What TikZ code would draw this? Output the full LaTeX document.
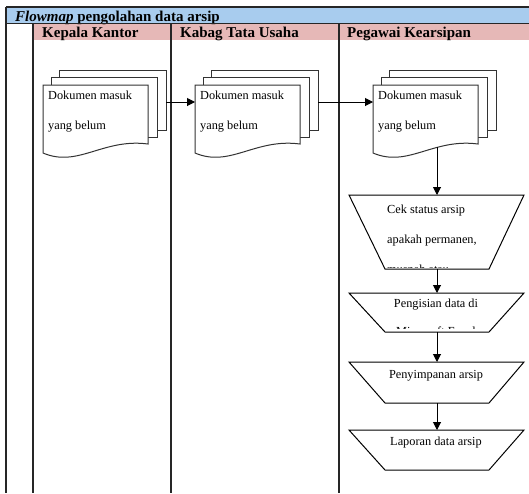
\documentclass[tikz,border=0pt]{standalone}
\usepackage{fontspec}
\setmainfont{Liberation Serif}
\usetikzlibrary{arrows.meta}
\definecolor{titleblue}{RGB}{168,204,238}
\definecolor{headpink}{RGB}{230,184,183}
\begin{document}
\begin{tikzpicture}[x=1pt,y=-1pt,
  grid/.style={line width=1.3pt,draw=black!85},
  page/.style={draw=black!80,line width=1pt,fill=white},
  lbl/.style={inner sep=0pt,font=\fontsize{12.3}{14}\selectfont},
  head/.style={inner sep=0pt,font=\fontsize{15}{17}\selectfont\bfseries},
  flow/.style={line width=1pt,-{Triangle[length=8pt,width=8pt]}},
  procbox/.style={draw=black,line width=1pt,fill=white},
  % stacked documents, origin at the top left corner of the front page
  multidoc/.pic={
    \path[page] (16,-15) rectangle (123,45);
    \path[page] (8,-8) rectangle (114,52);
    \path[page] (0,0) -- (105,0) -- (105,59)
      .. controls (60,53) and (35,83) .. (0,68) -- cycle;
    \node[lbl,anchor=base west] (-l1) at (5,14) {Dokumen masuk};
    \node[lbl,anchor=base west] (-l2) at (5,44) {yang belum};
    \coordinate (-in) at (0,17);
    \coordinate (-out) at (123,17);
    \coordinate (-bot) at (64,62.4);
  }
]
\useasboundingbox (0,0) rectangle (529,493);
\fill[white] (0,0) rectangle (529,493);

% title band and lane headers
\fill[titleblue] (6,7) rectangle (529,23.5);
\fill[headpink] (33,23.5) rectangle (529,39.5);
\node[head,anchor=base west] (title) at (15,21)
  {\textit{Flowmap} pengolahan data arsip};
\node[head,anchor=base west] (lane1) at (42,37) {Kepala Kantor};
\node[head,anchor=base west] (lane2) at (180,37) {Kabag Tata Usaha};
\node[head,anchor=base west] (lane3) at (347,37) {Pegawai Kearsipan};

% table rules
\draw[grid] (6,7) -- (529,7);
\draw[grid] (6,23.5) -- (529,23.5);
\draw[grid] (6,7) -- (6,493);
\draw[grid] (33,23.5) -- (33,493);
\draw[grid] (171,23.5) -- (171,493);
\draw[grid] (339,23.5) -- (339,493);

% incoming documents
\pic (d1) at (43,85) {multidoc};
\pic (d2) at (195,85) {multidoc};
\pic (d3) at (373,85) {multidoc};

% processes of the archive clerk
\path[procbox] (349,195) -- (524,195) -- (489,269) -- (385,269) -- cycle;
\coordinate (p1top) at (437,195);
\coordinate (p1bot) at (437,269);
\node[lbl,anchor=base west] (p1a) at (387,213) {Cek status arsip};
\node[lbl,anchor=base west] (p1b) at (387,243) {apakah permanen,};
\begin{scope}
  \clip (380,250) rectangle (500,267.5);
  \node[lbl,anchor=base west] (p1c) at (387,273) {musnah atau};
\end{scope}

\path[procbox] (349,293) -- (524,293) -- (489,332) -- (385,332) -- cycle;
\coordinate (p2top) at (437,293);
\coordinate (p2bot) at (437,332);
\node[lbl,anchor=base] (p2a) at (436,307.5) {Pengisian data di};
\begin{scope}
  \clip (380,315) rectangle (500,328.5);
  \node[lbl,anchor=base] (p2b) at (436,335) {Microsoft Excel};
\end{scope}

\path[procbox] (349,362) -- (524,362) -- (489,403) -- (385,403) -- cycle;
\coordinate (p3top) at (437,362);
\coordinate (p3bot) at (437,403);
\node[lbl,anchor=base] (p3a) at (436,378) {Penyimpanan arsip};

\path[procbox] (349,430) -- (524,430) -- (489,470) -- (385,470) -- cycle;
\coordinate (p4top) at (437,430);
\node[lbl,anchor=base] (p4a) at (436,445.5) {Laporan data arsip};

% connectors
\draw[flow] (d1-out) -- (d2-in);
\draw[flow] (d2-out) -- (d3-in);
\draw[flow] (d3-bot) -- (p1top);
\draw[flow] (p1bot) -- (p2top);
\draw[flow] (p2bot) -- (p3top);
\draw[flow] (p3bot) -- (p4top);
\end{tikzpicture}
\end{document}
